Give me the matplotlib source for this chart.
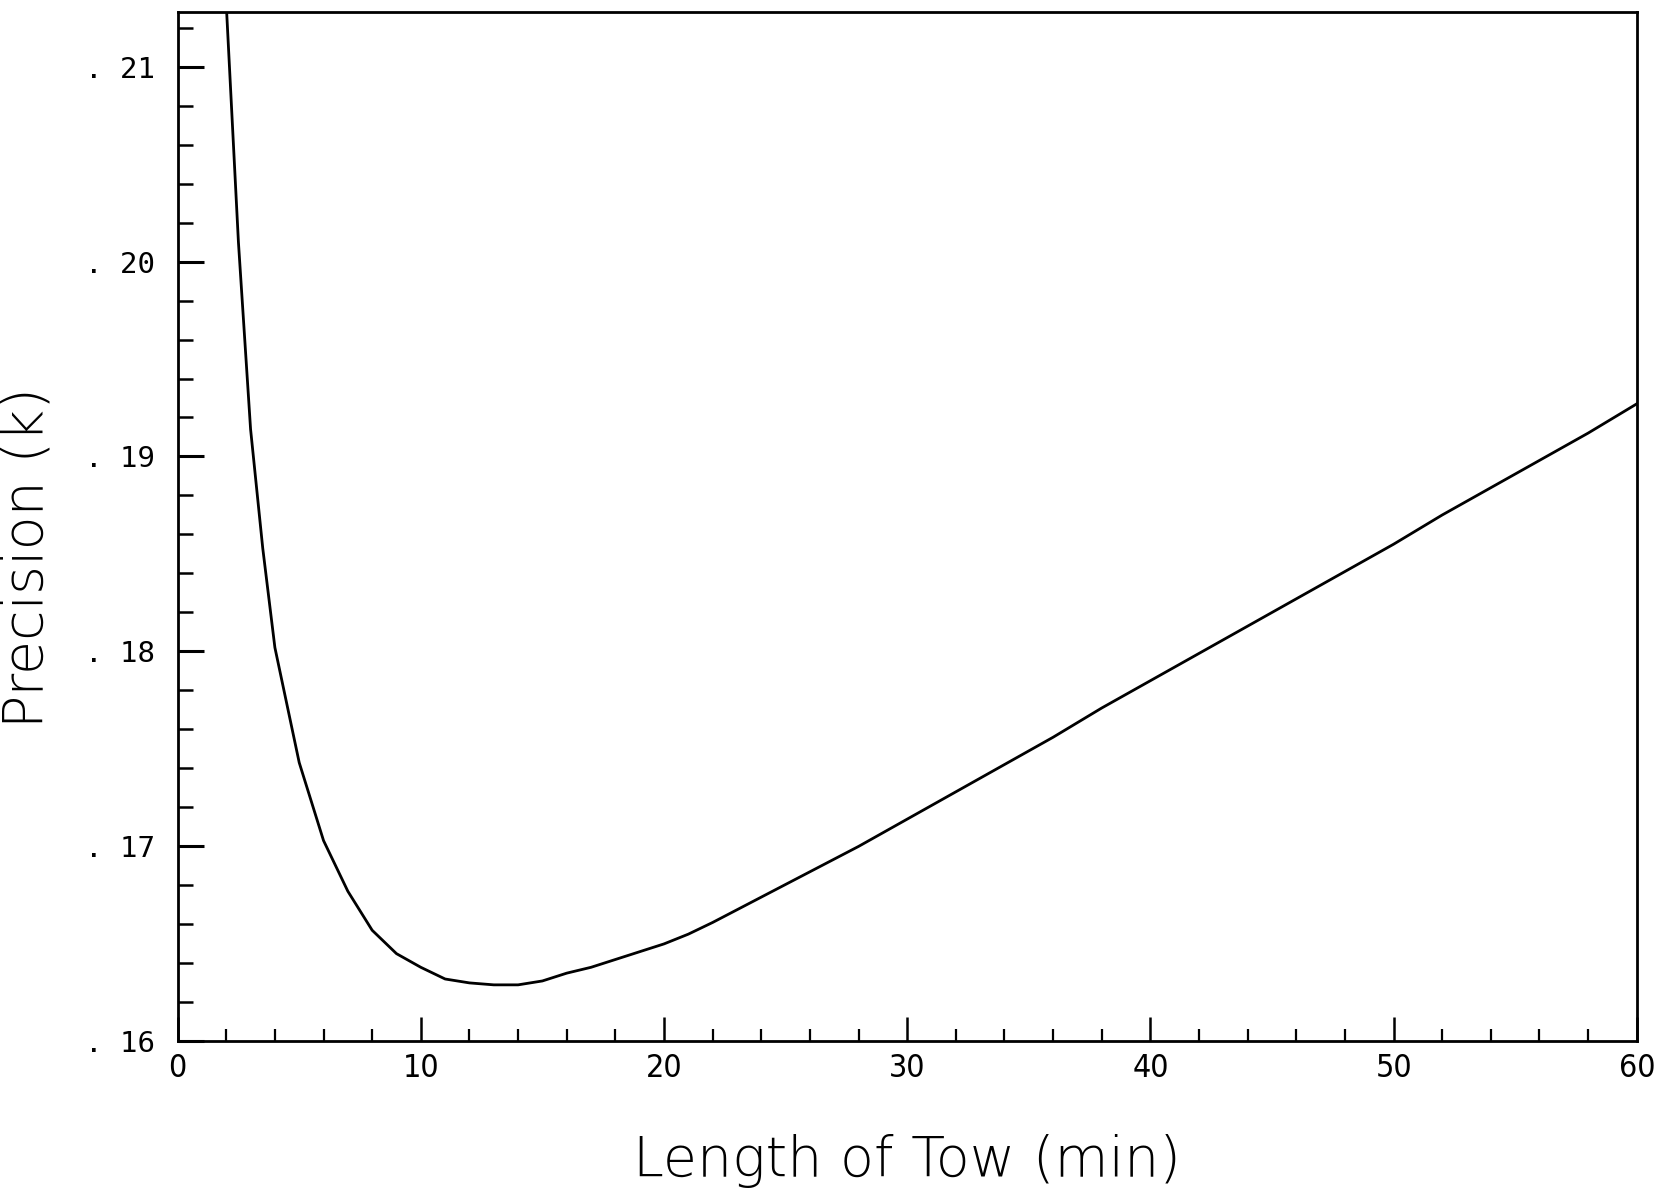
import numpy as np
import matplotlib
matplotlib.use("Agg")
import matplotlib.pyplot as plt
from matplotlib.ticker import MultipleLocator, FixedLocator

# values
tow_minutes = [2.0, 2.5, 3.0, 3.5, 4.0, 5.0, 6.0, 7.0, 8.0, 9.0, 10.0, 11.0,
               12.0, 13.0, 14.0, 15.0, 16.0, 17.0, 18.0, 19.0, 20.0, 21.0,
               22.0, 24.0, 26.0, 28.0, 30.0, 32.0, 34.0, 36.0, 38.0, 40.0,
               42.0, 44.0, 46.0, 48.0, 50.0, 52.0, 54.0, 56.0, 58.0, 60.0]
precision = [0.2132, 0.2010, 0.1914, 0.1853, 0.1802, 0.1743, 0.1703, 0.1677,
             0.1657, 0.1645, 0.1638, 0.1632, 0.1630, 0.1629, 0.1629, 0.1631,
             0.1635, 0.1638, 0.1642, 0.1646, 0.1650, 0.1655, 0.1661, 0.1674,
             0.1687, 0.1700, 0.1714, 0.1728, 0.1742, 0.1756, 0.1771, 0.1785,
             0.1799, 0.1813, 0.1827, 0.1841, 0.1855, 0.1870, 0.1884, 0.1898,
             0.1912, 0.1927]

x_ticks = [0, 10, 20, 30, 40, 50, 60]
y_ticks = [0.16, 0.17, 0.18, 0.19, 0.20, 0.21]
y_labels = [". 16", ". 17", ". 18", ". 19", ". 20", ". 21"]

fig = plt.figure(figsize=(16.6, 11.97), dpi=100)
ax = fig.add_axes([0.107, 0.130, 0.879, 0.860])

ax.plot(tow_minutes, precision, color="black", lw=2.0)

ax.set_xlim(0, 60)
ax.set_ylim(0.16, 0.2128)

ax.xaxis.set_major_locator(FixedLocator(x_ticks))
ax.xaxis.set_minor_locator(MultipleLocator(2))
ax.yaxis.set_major_locator(FixedLocator(y_ticks))
ax.yaxis.set_minor_locator(MultipleLocator(0.002))
ax.set_xticklabels([str(t) for t in x_ticks])
ax.set_yticklabels(y_labels)

ax.tick_params(axis="x", which="major", direction="in", length=17, width=1.8,
               labelsize=23, pad=8)
ax.tick_params(axis="x", which="minor", direction="in", length=9, width=1.6)
ax.tick_params(axis="y", which="major", direction="in", length=19, width=2.2,
               labelsize=21, pad=16)
ax.tick_params(axis="y", which="minor", direction="in", length=11, width=1.8)
for lab in ax.get_xticklabels():
    lab.set_fontfamily("DejaVu Sans")
    lab.set_fontstretch("condensed")
for lab in ax.get_yticklabels():
    lab.set_fontfamily("DejaVu Sans Mono")

for side in ["left", "bottom", "top", "right"]:
    ax.spines[side].set_linewidth(2.0)

ax.set_xlabel("Length of Tow (min)", fontsize=40, labelpad=36,
              fontfamily="DejaVu Sans", fontweight="light")
ax.set_ylabel("Precision (k)", fontsize=40,
              fontfamily="DejaVu Sans", fontweight="light")
ax.yaxis.set_label_coords(-0.084, 0.47)

fig.savefig("out.png", dpi=100, facecolor="white")
